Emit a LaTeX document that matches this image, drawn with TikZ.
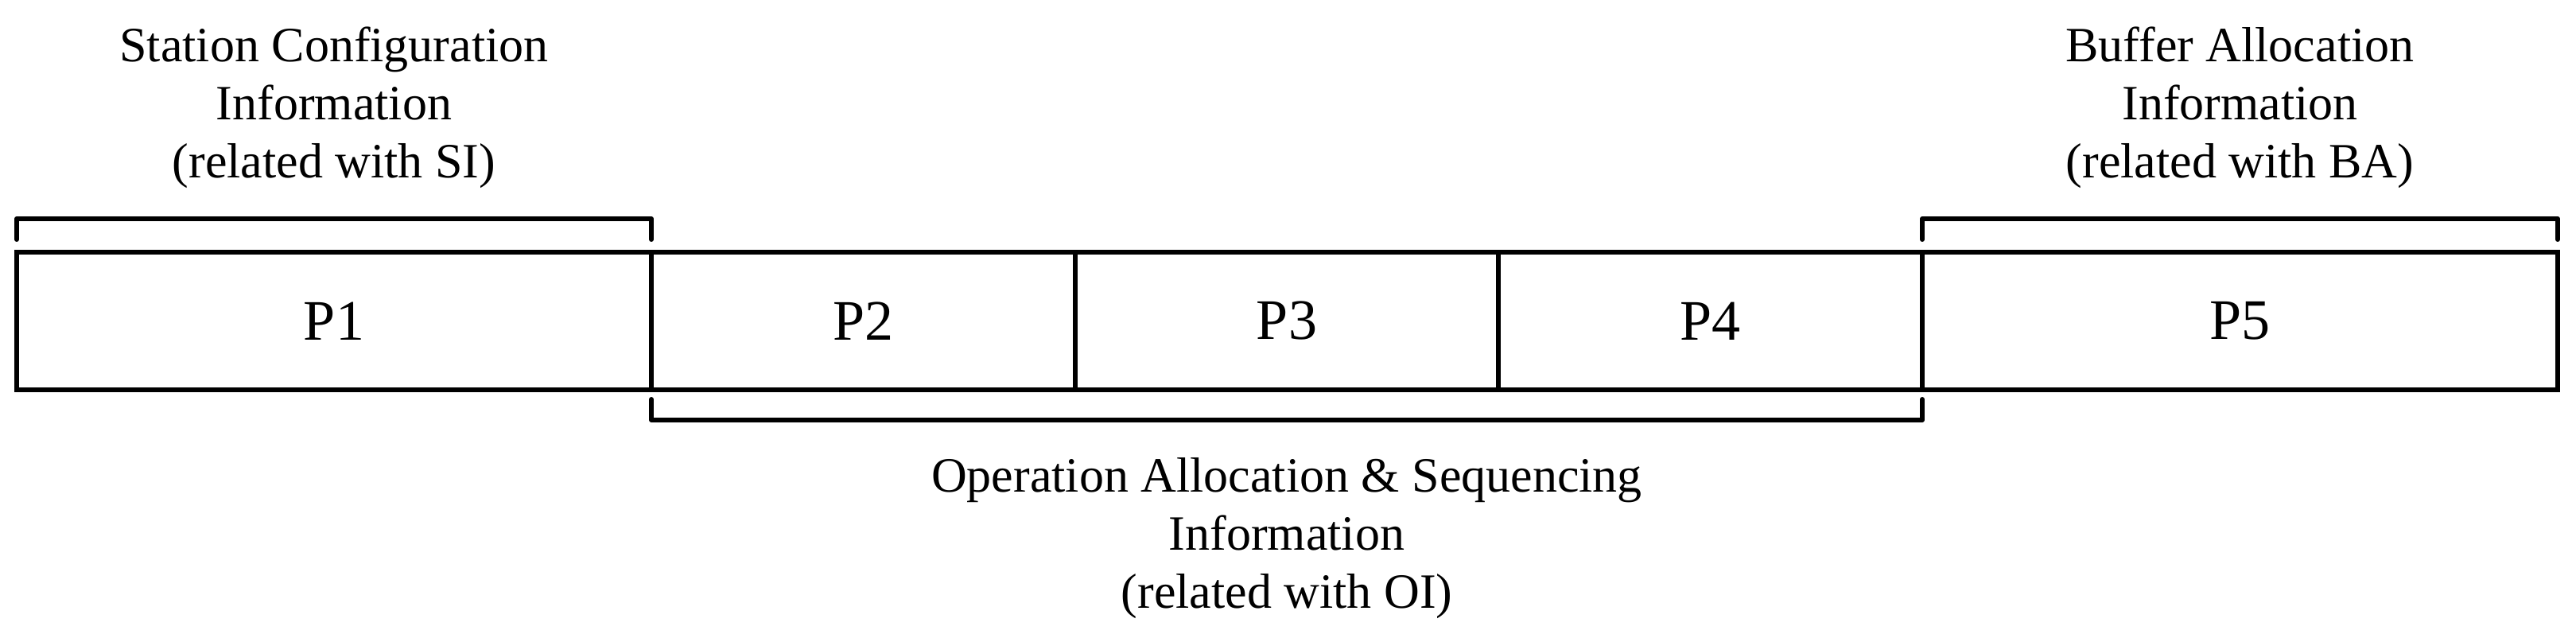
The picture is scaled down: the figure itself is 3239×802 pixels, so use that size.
\documentclass[tikz,border=0pt]{standalone}
\usepackage{fontspec}
\setmainfont{Liberation Serif}
\usetikzlibrary{calc}
\tikzset{
  cell/.style={draw=black, line width=6pt, inner sep=0pt, outer sep=0pt,
    minimum height=173pt, font=\fontsize{72}{80}\selectfont},
  bracket/.style={draw=black, line width=6pt, line cap=round, line join=round},
  lbl/.style={anchor=base, inner sep=0pt, font=\fontsize{62}{73}\selectfont}
}
\begin{document}
\begin{tikzpicture}[x=1pt,y=-1pt]
\useasboundingbox (0,0) rectangle (3239,802);
% cells
\node[cell, minimum width=798pt] (P1) at (420,403.5) {P1};
\node[cell, minimum width=533pt] (P2) at (1085.5,403.5) {P2};
\node[cell, minimum width=532pt] (P3) at (1618,403.5) {P3};
\node[cell, minimum width=533pt] (P4) at (2150.5,403.5) {P4};
\node[cell, minimum width=799pt] (P5) at (2816.5,403.5) {P5};
% brackets
\draw[bracket] ($(P1.north west)+(0,-16)$) -- ($(P1.north west)+(0,-42)$) -- ($(P1.north east)+(0,-42)$) -- ($(P1.north east)+(0,-16)$);
\draw[bracket] ($(P5.north west)+(0,-16)$) -- ($(P5.north west)+(0,-42)$) -- ($(P5.north east)+(0,-42)$) -- ($(P5.north east)+(0,-16)$);
\draw[bracket] ($(P2.south west)+(0,12)$) -- ($(P2.south west)+(0,38)$) -- ($(P4.south east)+(0,38)$) -- ($(P4.south east)+(0,12)$);
% labels
\node[lbl] (si1) at (420,78) {Station Configuration};
\node[lbl] (si2) at (420,151) {Information};
\node[lbl] (si3) at (420,224) {(related with SI)};
\node[lbl] (ba1) at (2816.5,78) {Buffer Allocation};
\node[lbl] (ba2) at (2816.5,151) {Information};
\node[lbl] (ba3) at (2816.5,224) {(related with BA)};
\node[lbl] (oi1) at (1618,618) {Operation Allocation \& Sequencing};
\node[lbl] (oi2) at (1618,691) {Information};
\node[lbl] (oi3) at (1618,764) {(related with OI)};
\end{tikzpicture}
\end{document}
